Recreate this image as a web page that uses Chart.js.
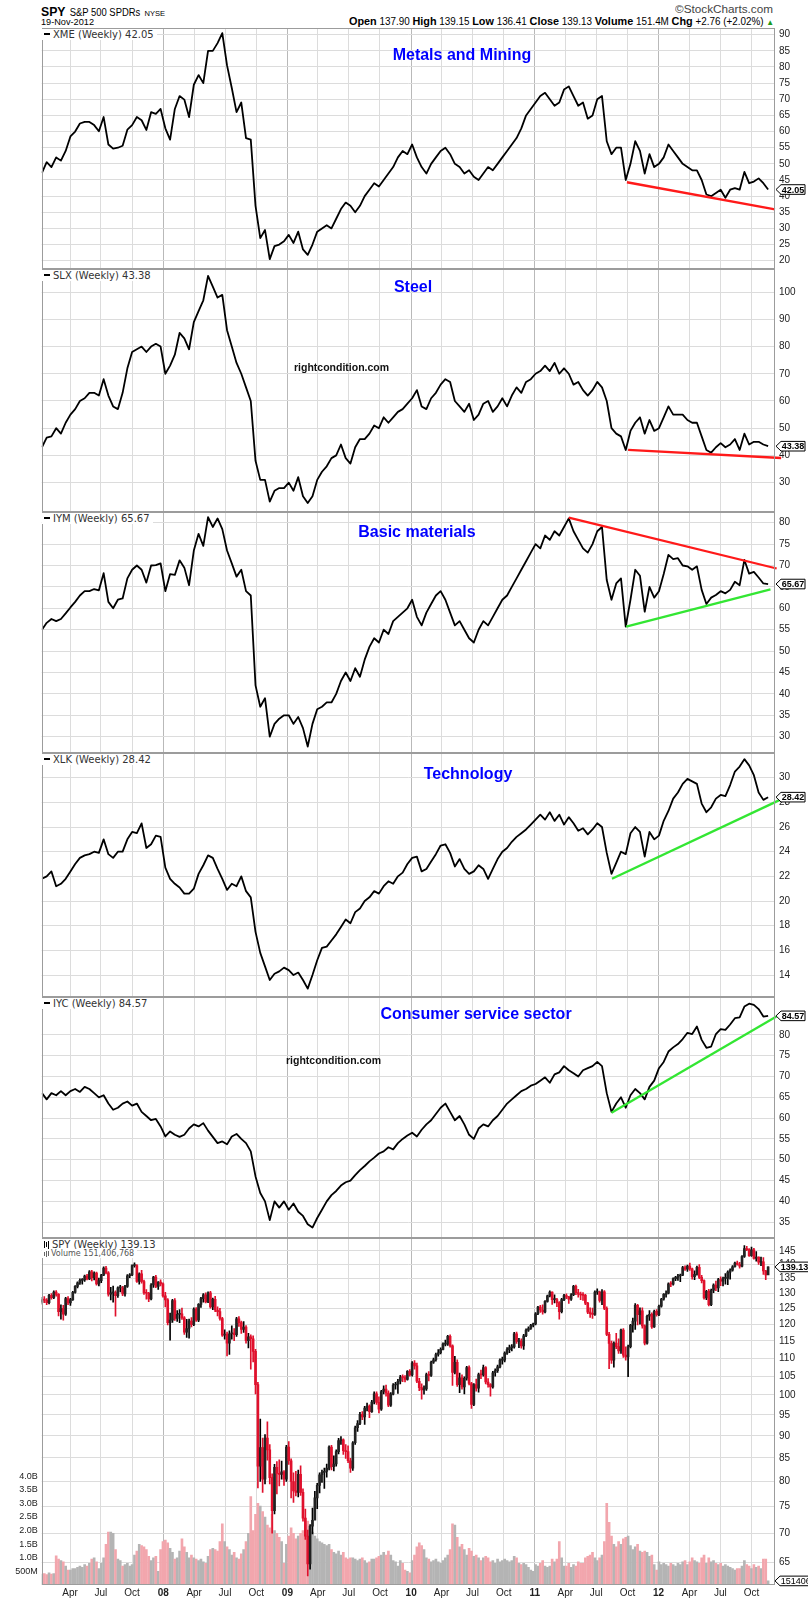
<!DOCTYPE html>
<html>
<head>
<meta charset="utf-8">
<title>SPY sectors</title>
<script src="https://cdn.jsdelivr.net/npm/chart.js@4.4.1/dist/chart.umd.min.js"></script>
<style>
  html,body{margin:0;padding:0;background:#fff;}
  body{position:relative;width:808px;height:1600px;overflow:hidden;font-family:"Liberation Sans",Arial,sans-serif;}
  canvas{position:absolute;left:0;}
  .t{position:absolute;white-space:nowrap;line-height:1;}
  .ttl{font-weight:bold;font-size:16px;color:#0000ff;transform:translateX(-50%);}
  .wm{font-weight:bold;font-size:10.5px;color:#111;}
  .lab{font-family:"DejaVu Sans";font-size:10px;line-height:11px;color:#333;background:#fff;padding:0 3px 0 2px;}
  .lab2{font-family:"DejaVu Sans";font-size:8px;line-height:9px;color:#555;background:#fff;padding:0 3px 0 2px;}
  .dash{display:inline-block;width:6px;height:2px;background:#000;vertical-align:middle;margin-right:3px;position:relative;top:-1px;}
  .ic{display:inline-block;width:1px;background:#000;margin-right:1px;vertical-align:middle;}
  #ov{position:absolute;left:0;top:0;pointer-events:none;}
  .hd{position:absolute;white-space:nowrap;line-height:1;transform-origin:0 50%;}
</style>
</head>
<body>
<div class="hd" id="h1" style="left:41px;top:3px;"><b style="font-size:13px">SPY</b> <span style="font-size:10px">S&amp;P 500 SPDRs</span> <span style="font-size:8px">NYSE</span></div>
<div class="hd" id="h2" style="left:41px;top:17px;font-size:9.5px;">19-Nov-2012</div>
<div class="hd" id="h3" style="top:5px;font-size:10px;color:#444;">©StockCharts.com</div>
<div class="hd" id="h4" style="top:16px;font-size:10px;"><b style="font-size:11px">Open</b> 137.90 <b style="font-size:11px">High</b> 139.15 <b style="font-size:11px">Low</b> 136.41 <b style="font-size:11px">Close</b> 139.13 <b style="font-size:11px">Volume</b> 151.4M <b style="font-size:11px">Chg</b> +2.76 (+2.02%) <span style="color:#1a9a1a;font-size:8px">▲</span></div>

<canvas id="c1" width="808" height="241" style="top:28px"></canvas>
<canvas id="c2" width="808" height="243" style="top:269px"></canvas>
<canvas id="c3" width="808" height="241" style="top:512px"></canvas>
<canvas id="c4" width="808" height="244" style="top:753px"></canvas>
<canvas id="c5" width="808" height="241" style="top:997px"></canvas>
<canvas id="c6" width="808" height="362" style="top:1238px"></canvas>

<div class="t lab" style="left:42px;top:28.5px;"><span class="dash"></span>XME (Weekly) 42.05</div>
<div class="t lab" style="left:42px;top:269.5px;"><span class="dash"></span>SLX (Weekly) 43.38</div>
<div class="t lab" style="left:42px;top:512.5px;"><span class="dash"></span>IYM (Weekly) 65.67</div>
<div class="t lab" style="left:42px;top:753.5px;"><span class="dash"></span>XLK (Weekly) 28.42</div>
<div class="t lab" style="left:42px;top:997.5px;"><span class="dash"></span>IYC (Weekly) 84.57</div>
<div class="t lab" style="left:42px;top:1238.5px;"><span class="ic" style="height:7px"></span><span class="ic" style="height:5px"></span><span class="ic" style="height:8px;margin-right:3px"></span>SPY (Weekly) 139.13</div>
<div class="t lab2" style="left:42px;top:1249px;"><span class="ic" style="height:4px;background:#666"></span><span class="ic" style="height:6px;background:#666"></span><span class="ic" style="height:5px;background:#666;margin-right:2px"></span>Volume 151,406,768</div>

<div class="t ttl" style="left:462px;top:47px;">Metals and Mining</div>
<div class="t ttl" style="left:413px;top:279px;">Steel</div>
<div class="t ttl" style="left:417px;top:524px;">Basic materials</div>
<div class="t ttl" style="left:468px;top:766px;">Technology</div>
<div class="t ttl" style="left:476px;top:1006px;">Consumer service sector</div>
<div class="t wm" style="left:294px;top:362px;">rightcondition.com</div>
<div class="t wm" style="left:286px;top:1055px;">rightcondition.com</div>

<svg id="ov" width="808" height="1600" xmlns="http://www.w3.org/2000/svg"></svg>

<script>
// ====================== DATA ======================
// Weekly index 0 = week of 8-Jan-2007 ... 306 = week of 19-Nov-2012.
// Sector series are read every 2 weeks (index*2 = week).
const xmeValues = [
 47.2,50.5,49,52,51,54,58.5,60,62.5,63,
 63,62,60.1,64.5,56,54.7,55,55.6,60.6,62,
 64.5,63.5,60.5,66,65.5,67,61,57.5,67,71,
 69.9,64.5,74.5,77.5,75,85,85,87.4,90.5,80.5,
 73.5,66,69,58,57.5,37,27,29.5,20.5,24.5,
 25,26,28,25.5,29,23.5,21.8,25,29,30,
 31,30,33,36,38,37,35,37,40,42,
 44,43,45,47,49,52,54,53,56,52,
 49,47,50,52,54,55,53,50,49,47,
 48,46,45,47,49,48,50,52,54,56,
 58,61,65,67,69,71,72,70,68,69,
 73,74,71,68,69,64,65,70,71,57,
 53,55,55,45,50,57,54,47,53,49,
 50,52,56,54,52,50,49,48,48,45,
 40.5,40,41,42,39.5,42,42.5,42,47.5,44,
 44.5,45.5,44,42.05
];
const slxValues = [
 43,46.5,47,50,48,52,55,57,60,61,
 63,63,62,68,62,58,57,63,72,78,
 79,80,78,80,81,80,70,73,77,85,
 83,79,89,93,97,106,102,98,99,86,
 80,74,70,65,60,38,31,31,23,27,
 28,28,30,27,32,25,22.5,25,31,34,
 36,39,40,44,39,37,43,46,46,48,
 51,50,54,52,54,56,57,59,61,64,
 58,57,61,63,66,68,67,60,58,56,
 59,53,55,59,60,56,58,61,58,62,
 65,63,67,68,70,71,73,71,74,70,
 72,70,66,67,64,62,64,67,65,60,
 50,48,47,42,49,52,54,48,53,49,
 50,54,58,55,55,55,53,52,52,47,
 42,41,43,44.5,43,44,46,42,48,44,
 45,45,44,43.38
];
const iymValues = [
 55,56.6,57.5,57,57.5,58.8,60.2,61.5,63,64,
 64,64.5,64.2,68.2,61.5,60,62,62.3,67,69,
 70,69,66,70,70.1,70.5,64,68,67.8,71.2,
 69.5,65.4,73.5,77.4,74.6,81.3,79,81,78.5,73.5,
 70.5,67.4,69,64,63,42,37,39,30,33,
 34.2,35,35,33,34.6,32,27.7,33,36.4,37,
 38,38,40,43,45,43,46,44,48,51,
 53,52,55,54,57,58,59,60,62,58,
 56,59,61,63,64,62,59,56,57,55,
 53,52,55,57,56,58,60,62,63,65,
 67,69,71,73,75,74,77,76,78,77,
 79,81,78,76,74,73,75,78,79,66.6,
 62,65.8,67,55.7,62,69,67.6,59.2,65,62.5,
 64,68,72.5,71.5,71.7,70,69.8,69,69.8,64.3,
 61,62.5,63.1,64,63.5,64.3,66.2,65.4,71.3,68.1,
 68.5,67.2,65.8,65.67
];
const xlkValues = [
 21.8,22.0,22.4,21.2,21.4,21.8,22.4,23.0,23.5,23.7,
 23.8,24.0,23.9,25.0,23.8,23.5,24.0,24.0,25.0,25.6,
 25.5,26.3,24.3,24.6,25.3,25.2,22.7,21.8,21.4,21.1,
 20.6,20.6,21.0,22.2,22.9,23.7,23.5,22.6,21.8,20.9,
 21.4,21.2,22.0,20.8,20.3,17.5,15.8,14.7,13.6,14.1,
 14.3,14.6,14.4,14.0,14.2,13.6,12.9,14.0,15.2,16.2,
 16.3,16.8,17.3,17.9,18.5,18.2,19.1,19.4,20.0,20.3,
 20.8,20.6,21.2,21.6,21.4,22.0,22.3,23.0,23.5,23.6,
 22.4,22.6,23.2,23.8,24.5,24.6,23.9,22.8,23.4,22.6,
 22.2,22.4,22.9,22.6,21.8,22.6,23.4,24.0,24.3,24.8,
 25.2,25.5,25.8,26.2,26.6,27.0,26.6,27.2,26.5,27.0,
 26.2,26.8,26.3,25.7,25.9,25.4,25.8,26.3,26.0,23.9,
 22.2,23.1,24.0,23.8,25.5,26.0,25.6,23.6,25.6,25.0,
 25.3,26.5,27.3,28.3,28.8,29.5,29.9,29.7,29.5,27.9,
 27.2,27.6,28.3,28.6,28.5,29.4,30.5,30.9,31.5,31.0,
 30.2,28.8,28.2,28.42
];
const iycValues = [
 66,64.5,66,65.5,66.5,65.5,66.5,67,66.3,67.5,
 67,66,65,65.5,63.5,62,62.5,63.5,64,63,
 63.5,61.5,60.5,59.5,59.8,58,55.6,56.8,56,55.5,
 56,57.5,58.5,58,58.8,57,55.5,54,54.4,53.7,
 55.6,56.2,55,54,52,46,42,40,35.5,40,
 38.5,40,38,39.5,37.5,36.5,34.5,33.7,36,38,
 40,41.5,42.5,43.8,44.6,45,46.3,47.5,48.5,49.6,
 50.5,51.5,52,53,52.5,54,55,55.8,56.5,55.6,
 57.2,58.5,59.5,61,62.5,63.5,61.5,59.5,60.5,58.5,
 56,55,57.5,58.5,58,59.5,60.5,62,63.5,64.5,
 65.5,66.5,67,67.8,68.2,69,69.8,68.5,70.5,71,
 72.5,71.5,70.8,70,71.5,72,72.5,73.5,72.5,66,
 61.5,63.5,65,62.5,65.5,67,66,64.5,67.5,69,
 72,73.5,76,77,77.8,79,80.5,80.2,82,78.8,
 76.9,77.2,80.2,81.4,81.2,82.5,84,84.2,86.8,87.5,
 87.2,86.2,84.4,84.57
];

// SPY weekly candles (one value per week)
const spyFirstOpen = 127.0;
const spyClose = [
 127.9,127.7,126.9,129.3,128.5,130.4,129.6,124.0,125.0,123.2,
 128.2,126.8,127.9,130.3,132.3,133.5,134.4,134.5,135.9,134.9,
 137.4,135.3,136.9,133.2,134.3,136.2,138.7,137.0,129.7,130.1,
 130.2,129.2,131.8,131.8,129.8,132.3,136.0,136.3,139.6,139.6,
 134.0,136.7,134.0,130.1,130.0,128.1,132.8,135.5,132.3,133.8,
 133.2,129.1,127.8,120.5,121.3,127.6,121.8,123.1,123.3,122.0,
 117.6,118.7,121.0,119.9,124.8,121.3,126.3,128.2,129.5,127.1,
 130.1,125.5,128.0,124.5,124.0,121.8,116.7,117.0,114.3,117.1,
 117.3,116.8,121.7,120.5,118.4,119.1,115.0,116.2,115.6,111.9,
 102.7,83.2,87.3,80.5,89.5,86.8,80.8,74.2,83.0,81.7,
 81.5,82.0,80.5,87.4,84.4,80.0,78.1,77.8,81.5,77.8,
 72.8,69.5,64.7,71.3,72.4,76.7,79.2,81.4,81.9,82.1,
 82.8,87.4,83.1,83.7,86.4,88.9,89.1,86.6,86.4,84.4,
 82.8,88.4,91.9,92.9,95.1,94.5,96.7,97.2,95.8,98.2,
 100.3,98.1,96.4,100.9,101.5,100.5,97.4,100.2,102.6,102.8,
 103.6,104.7,104.6,104.1,106.3,105.3,108.6,107.8,103.6,101.9,
 101.3,101.6,105.4,105.2,108.8,109.5,111.0,111.5,112.5,114.0,
 114.0,116.3,113.5,106.0,108.8,102.7,104.5,102.1,104.4,107.3,
 103.0,97.6,102.7,101.8,105.4,105.3,107.3,103.4,102.7,102.1,
 105.9,106.5,107.5,109.4,109.4,111.4,112.4,113.0,113.2,117.1,
 114.8,114.9,113.5,116.5,118.2,118.7,119.7,120.1,123.3,125.4,
 124.5,123.9,127.3,129.1,130.4,127.9,127.9,126.9,124.0,127.9,
 129.2,128.8,128.0,129.5,132.3,130.2,129.7,129.4,129.3,126.7,
 123.8,123.3,123.1,130.4,130.4,127.6,130.5,125.0,116.9,114.2,
 109.4,114.3,113.3,112.0,118.2,110.8,110.3,113.3,119.7,121.0,
 126.0,123.0,124.2,119.5,114.3,122.5,123.1,119.2,124.1,123.0,
 125.7,128.0,129.6,130.0,133.2,133.1,135.0,135.4,135.9,136.2,
 138.9,138.3,139.4,138.4,135.7,136.5,139.0,135.4,134.3,128.4,
 130.6,126.2,131.0,132.8,131.8,134.7,134.1,135.1,135.1,137.3,
 138.0,139.2,140.5,140.0,139.4,142.9,145.9,145.5,143.2,145.4,
 142.2,142.7,140.8,141.0,137.7,136.3,139.13
];
const spyHigh = [
 128.6,128.9,128.2,129.6,129.9,130.8,130.9,129.9,126.2,126.0,
 128.6,128.9,128.3,130.6,132.6,133.9,134.9,135.0,136.2,136.5,
 137.8,137.9,137.4,137.3,135.2,136.5,139.2,139.3,137.5,132.0,
 132.4,130.8,132.2,132.7,132.3,132.7,136.4,136.8,139.9,140.6,
 140.0,137.0,137.9,134.5,131.2,130.3,133.3,135.8,136.1,134.0,
 134.6,133.5,130.3,128.2,123.5,128.0,128.2,124.3,124.6,125.1,
 122.4,121.5,121.6,122.1,125.2,125.3,126.6,128.6,129.9,130.1,
 130.5,130.6,128.4,129.0,125.5,125.0,122.2,118.3,117.6,118.0,
 119.5,118.7,122.2,122.4,121.0,120.8,119.6,117.2,116.8,116.5,
 112.5,103.3,94.0,89.5,90.3,93.3,88.0,81.6,83.6,84.2,
 84.6,84.3,82.3,87.8,88.7,84.8,81.8,82.1,82.4,83.3,
 78.5,74.5,70.6,71.6,74.7,78.0,79.6,81.8,82.4,82.8,
 83.7,87.7,87.8,85.5,86.8,89.4,89.8,89.3,88.0,87.7,
 84.9,88.7,92.3,93.6,95.6,95.8,97.1,97.9,97.5,98.6,
 100.8,100.8,99.5,101.2,102.4,102.6,101.1,100.6,103.0,103.3,
 104.1,105.2,105.3,105.1,106.5,106.8,109.0,109.3,108.6,104.4,
 102.9,102.4,105.8,106.2,109.1,110.0,111.4,112.4,112.9,114.4,
 115.2,116.6,116.8,113.8,110.5,109.5,105.8,105.3,104.8,107.7,
 107.8,103.3,103.0,104.2,105.8,106.6,108.0,107.6,104.3,103.0,
 106.3,107.0,108.0,109.8,110.3,111.8,113.0,113.7,113.9,117.5,
 117.6,115.7,115.6,116.9,118.6,119.2,120.0,120.4,123.7,125.7,
 126.0,126.2,127.6,129.4,130.8,130.5,129.5,128.3,127.2,128.3,
 129.6,129.8,129.0,129.9,132.7,132.8,131.3,130.4,130.2,129.6,
 127.0,125.2,125.1,130.8,131.5,130.7,131.2,130.9,125.5,117.5,
 114.9,114.7,117.2,115.6,118.5,118.7,113.2,113.7,120.0,121.9,
 126.6,126.3,125.2,125.2,119.8,122.9,124.3,123.6,124.5,124.6,
 126.1,128.3,129.9,130.8,133.5,134.0,135.3,135.8,136.5,136.6,
 139.3,139.5,139.8,140.5,138.7,137.7,139.4,140.0,136.1,134.6,
 131.0,131.3,131.4,133.2,134.1,135.1,135.6,135.5,136.8,137.7,
 138.4,139.6,140.9,141.2,140.8,143.3,147.0,146.7,145.9,146.4,
 146.0,144.7,142.8,142.7,142.5,137.9,139.15
];
const spyLow = [
 126.4,126.9,126.2,126.5,128.0,128.2,129.0,122.6,121.6,121.3,
 122.8,126.2,126.0,127.6,130.0,131.8,133.0,133.1,134.0,134.5,
 134.6,134.2,134.5,132.7,132.5,133.6,136.0,136.6,129.0,127.8,
 127.0,122.5,128.6,130.4,129.2,129.0,132.0,135.3,136.0,139.0,
 133.7,133.1,133.4,129.6,128.0,127.2,127.8,132.0,131.9,131.3,
 132.5,128.7,125.5,119.8,115.2,120.6,121.2,120.9,120.5,121.5,
 116.9,116.0,115.8,119.2,119.6,120.9,120.8,125.3,127.0,126.8,
 126.9,125.1,124.6,124.0,122.6,121.3,116.3,115.5,110.6,111.0,
 115.5,115.0,116.3,119.3,117.2,117.5,114.3,112.9,106.9,108.9,
 100.3,78.7,80.0,77.8,79.5,84.5,79.5,70.0,73.6,77.5,
 79.1,80.5,79.2,80.0,83.6,76.7,75.8,77.1,76.9,77.2,
 72.2,68.9,62.7,63.8,69.9,73.5,74.6,77.7,79.8,78.6,
 80.9,82.4,82.4,82.2,83.2,85.9,88.0,85.8,84.9,84.0,
 81.9,82.3,88.0,91.0,92.6,93.8,92.7,96.0,94.3,95.6,
 97.7,97.6,95.5,96.1,100.3,99.7,97.0,97.1,100.0,101.5,
 100.4,102.9,103.5,103.4,103.9,105.0,105.0,106.9,103.2,101.1,
 98.9,100.2,101.2,103.7,104.9,108.5,109.1,110.5,111.2,112.3,
 113.5,113.6,113.1,102.5,105.6,102.2,100.6,101.5,100.3,103.9,
 102.6,96.6,97.3,101.0,100.7,104.3,105.0,102.9,102.0,99.7,
 101.8,105.0,106.0,107.2,108.3,108.9,111.0,111.5,112.0,112.8,
 114.2,113.0,112.8,112.5,116.2,117.8,118.4,119.2,119.8,123.0,
 123.7,123.2,123.6,127.0,128.8,126.3,126.8,125.6,121.6,123.6,
 127.5,128.2,126.6,127.6,129.2,129.5,128.7,127.9,127.6,126.2,
 123.3,122.1,121.8,122.8,129.6,127.0,126.2,124.6,116.5,107.0,
 108.5,107.4,112.7,111.3,111.3,110.2,109.4,104.8,112.9,117.6,
 118.4,119.8,120.0,118.8,113.8,114.0,121.2,118.7,119.0,122.5,
 122.7,125.4,127.7,128.7,129.8,132.2,132.7,134.3,134.4,133.9,
 136.0,137.9,137.5,137.9,134.8,134.6,136.2,135.0,133.5,128.0,
 127.9,125.8,125.9,130.2,130.9,130.5,132.6,132.5,133.1,132.9,
 134.8,137.6,139.0,139.8,138.7,139.1,142.6,145.1,142.9,142.9,
 141.9,141.2,140.0,139.6,136.5,134.6,136.41
];
// weekly volume, billions of shares
const spyVolume = [
 0.40,0.42,0.38,0.45,0.40,0.42,1.07,0.95,0.90,0.85,
 0.70,0.55,0.55,0.60,0.60,0.65,0.70,0.65,0.75,0.70,
 0.80,0.95,1.00,0.85,0.60,0.80,1.00,1.50,1.95,1.95,
 1.90,1.30,0.95,0.90,0.70,0.75,0.80,0.70,0.75,1.10,
 1.25,1.50,1.45,1.40,1.30,1.05,0.90,1.00,1.05,0.50,
 1.30,1.60,1.65,1.55,1.35,1.20,0.95,1.00,1.25,1.70,
 1.40,1.20,1.00,1.10,1.00,0.95,0.90,0.95,0.85,0.80,
 1.05,1.30,1.35,1.30,1.25,1.60,2.25,1.60,1.40,1.30,
 1.10,1.20,1.00,0.95,1.15,1.30,1.60,1.90,3.25,2.00,
 2.60,3.00,2.90,2.70,2.50,2.20,2.10,2.60,2.00,1.90,
 1.75,1.60,0.80,1.50,1.80,2.10,1.90,1.70,1.80,1.90,
 2.00,2.20,2.35,2.10,1.95,1.80,1.70,1.60,1.55,1.50,
 1.45,1.50,1.30,1.20,1.15,1.25,1.10,1.20,1.00,0.95,
 1.00,1.00,0.95,0.90,0.95,1.00,0.90,0.80,0.85,0.95,
 0.95,1.00,1.05,1.10,1.20,1.10,1.25,1.10,0.90,0.85,
 0.70,0.90,0.80,0.55,0.50,0.45,0.90,1.10,1.40,1.55,
 1.45,1.30,1.00,0.95,0.85,0.90,0.95,0.85,0.80,0.90,
 1.00,1.10,1.30,2.25,2.20,1.75,1.40,1.50,1.30,1.10,
 1.35,1.25,1.05,1.10,1.00,0.90,1.00,1.05,1.00,0.85,
 0.90,0.80,0.95,0.85,0.90,0.95,0.90,0.85,0.90,1.05,
 1.00,0.80,0.75,0.80,0.75,0.65,0.55,0.50,0.75,0.70,
 0.80,0.90,0.70,0.65,0.70,0.95,0.85,0.95,1.60,1.00,
 0.70,0.70,0.80,0.65,0.75,0.70,0.85,0.80,0.80,1.00,
 1.05,1.10,1.20,1.00,0.90,1.00,1.10,1.60,3.00,2.30,
 1.80,1.50,1.40,1.60,1.50,1.70,1.75,1.80,1.45,1.30,
 1.40,1.50,1.25,1.20,1.25,1.20,1.05,1.10,0.75,0.55,
 0.85,0.75,0.80,0.75,0.70,0.80,0.75,0.70,0.80,0.75,
 0.85,0.90,0.75,0.85,1.00,0.90,0.85,0.80,1.00,1.10,
 0.80,1.00,0.85,0.90,0.80,0.75,0.80,0.70,0.75,0.70,
 0.65,0.60,0.55,0.60,0.60,0.70,0.90,0.75,0.70,0.60,
 0.75,0.65,0.70,0.60,0.95,0.95,0.15
];

// trend lines (week, value) drawn on the chart
const xmeRedWeeks = [246.5, 308.9],  xmeRedValues = [44.3, 35.9];
const slxRedWeeks = [247, 311.5],    slxRedValues = [42.0, 39.05];
const iymRedWeeks = [222, 309.6],    iymRedValues = [81.2, 69.3];
const iymGreenWeeks = [246.2, 307],  iymGreenValues = [55.7, 64.4];
const xlkGreenWeeks = [240.2, 311],  xlkGreenValues = [21.8, 28.2];
const iycGreenWeeks = [240, 309.5],  iycGreenValues = [61.3, 84.4];

// axis tick values
const xmeTicks = [20,25,30,35,40,45,50,55,60,65,70,75,80,85,90];
const slxTicks = [30,40,50,60,70,80,90,100];
const iymTicks = [30,35,40,45,50,55,60,65,70,75,80];
const xlkTicks = [14,16,18,20,22,24,26,28,30];
const iycTicks = [35,40,45,50,55,60,65,70,75,80];
const spyTicks = [65,70,75,80,85,90,95,100,105,110,115,120,125,130,135,140,145];
const volTicks = [0.5,1.0,1.5,2.0,2.5,3.0,3.5,4.0];
const volTickLabels = ['500M','1.0B','1.5B','2.0B','2.5B','3.0B','3.5B','4.0B'];
const monthNames = ['Jan','Apr','Jul','Oct'];

// ====================== SETUP ======================
Chart.defaults.font.family = '"Liberation Sans", Arial, sans-serif';
Chart.defaults.animation = false;
const X_MIN = -0.1, X_MAX = 308.9;
const W0 = Date.UTC(2007,0,8), WEEK = 7*86400000;
const quarterTicks = [], quarterLabels = [], yearSet = new Set();
for (let y = 2007; y <= 2012; y++) {
  [0,3,6,9].forEach((m,k) => {
    const v = (Date.UTC(y,m,1) - W0) / WEEK;
    if (v > X_MIN && v < X_MAX) {
      quarterTicks.push(v);
      quarterLabels.push(k === 0 ? String(y).slice(2) : monthNames[k]);
      if (k === 0) yearSet.add(v);
    }
  });
}
const GRID = '#dcdcdc', YEARGRID = '#b9b9b9';

const framePlugin = {
  id: 'frame',
  afterDraw(chart) {
    const {ctx, chartArea: a} = chart;
    ctx.save();
    ctx.strokeStyle = '#9c9c9c';
    ctx.lineWidth = 1;
    ctx.strokeRect(Math.round(a.left)+0.5, Math.round(a.top)+0.5,
                   Math.round(a.right-a.left)-1, Math.round(a.bottom-a.top)-1);
    ctx.restore();
  }
};

function noPad(s) { s.paddingTop = 0; s.paddingBottom = 0; s.paddingLeft = 0; s.paddingRight = 0; }
function xScale(showLabels) {
  return {
    type: 'linear', min: X_MIN, max: X_MAX, offset: false,
    afterBuildTicks: s => { s.ticks = quarterTicks.map(v => ({value: v})); },
    afterFit: s => { s.height = showLabels ? 15 : 0; noPad(s); },
    grid: { offset: false, drawTicks: false, lineWidth: 1,
            color: c => (c.tick && yearSet.has(c.tick.value)) ? YEARGRID : GRID },
    border: { display: false },
    ticks: { display: showLabels, autoSkip: false, maxRotation: 0, padding: 2, color: '#222',
             font: c => ({ size: 10, weight: (c.tick && yearSet.has(c.tick.value)) ? 'bold' : 'normal' }),
             callback: (v, i) => quarterLabels[i] }
  };
}
function yScale(type, min, max, ticks) {
  return {
    type, position: 'right', min, max,
    afterBuildTicks: s => { s.ticks = ticks.map(v => ({value: v})); },
    afterFit: s => { s.width = 33; noPad(s); },
    grid: { color: GRID, drawTicks: false, lineWidth: 1 },
    border: { display: false },
    ticks: { padding: 4, color: '#222', autoSkip: false, font: { size: 10 }, callback: v => String(v) }
  };
}

const charts = {};
function linePanel(id, values, yMin, yMax, ticks, trends) {
  const datasets = [{
    data: values.map((v, i) => ({x: i*2, y: v})),
    borderColor: '#000', borderWidth: 1.8, pointRadius: 0, tension: 0,
    borderJoinStyle: 'round', order: 2
  }];
  trends.forEach(t => datasets.push({
    data: t.w.map((w, i) => ({x: w, y: t.v[i]})),
    borderColor: t.color, borderWidth: 2.3, pointRadius: 0, clip: false, order: 1
  }));
  charts[id] = new Chart(document.getElementById(id), {
    type: 'line',
    data: { datasets },
    options: {
      responsive: false, animation: false, events: [],
      layout: { padding: { left: 41.7, right: 0, top: 0, bottom: 0 } },
      plugins: { legend: { display: false }, tooltip: { enabled: false } },
      scales: { x: xScale(false), y: yScale('linear', yMin, yMax, ticks) }
    },
    plugins: [framePlugin]
  });
}

const RED = '#ff1a1a', GREEN = '#33e633';
linePanel('c1', xmeValues, 17.43, 92.08, xmeTicks,
  [{w: xmeRedWeeks, v: xmeRedValues, color: RED}]);
linePanel('c2', slxValues, 19.2, 108.5, slxTicks,
  [{w: slxRedWeeks, v: slxRedValues, color: RED}]);
linePanel('c3', iymValues, 26.19, 82.5, iymTicks,
  [{w: iymRedWeeks, v: iymRedValues, color: RED}, {w: iymGreenWeeks, v: iymGreenValues, color: GREEN}]);
linePanel('c4', xlkValues, 12.22, 32.0, xlkTicks,
  [{w: xlkGreenWeeks, v: xlkGreenValues, color: GREEN}]);
linePanel('c5', iycValues, 31.2, 89.1, iycTicks,
  [{w: iycGreenWeeks, v: iycGreenValues, color: GREEN}]);

// SPY candles + volume
const spyOpen = spyClose.map((c, i) => i === 0 ? spyFirstOpen : spyClose[i-1]);
const spyDown = spyClose.map((c, i) => c < spyOpen[i]);
const yPrice = yScale('logarithmic', 61.26, 149.9, spyTicks);
charts.c6 = new Chart(document.getElementById('c6'), {
  type: 'bar',
  data: { datasets: [
    { yAxisID: 'yv', data: spyVolume.map((v, i) => ({x: i, y: v})),
      backgroundColor: spyDown.map(d => d ? '#f2a6ad' : '#b4b4b4'),
      barThickness: 2, grouped: false, order: 3 },
    { yAxisID: 'y', data: spyHigh.map((h, i) => ({x: i, y: [spyLow[i], h]})),
      backgroundColor: spyDown.map(d => d ? '#e0102c' : '#000'),
      barThickness: 1, grouped: false, order: 2 },
    { yAxisID: 'y', data: spyClose.map((c, i) => ({x: i, y: [spyOpen[i], c]})),
      backgroundColor: spyDown.map(d => d ? '#e0102c' : '#222'),
      barThickness: 2, minBarLength: 1, grouped: false, order: 1 }
  ]},
  options: {
    responsive: false, animation: false, events: [],
    layout: { padding: 0 },
    plugins: { legend: { display: false }, tooltip: { enabled: false } },
    scales: {
      x: xScale(true),
      y: yPrice,
      yv: { type: 'linear', position: 'left', min: 0, max: 12.76,
            afterBuildTicks: s => { s.ticks = volTicks.map(v => ({value: v})); },
            afterFit: s => { s.width = 41.7; noPad(s); },
            grid: { display: false, drawTicks: false }, border: { display: false },
            ticks: { padding: 4, color: '#222', autoSkip: false, font: { size: 9 },
                     callback: (v, i) => volTickLabels[i] } }
    }
  },
  plugins: [framePlugin]
});

// ====================== OVERLAYS ======================
const svgNS = 'http://www.w3.org/2000/svg';
const ov = document.getElementById('ov');
function addTag(x, y, text, w, bold) {
  const h = 4.8;
  const p = document.createElementNS(svgNS, 'polygon');
  p.setAttribute('points', `${x},${y} ${x+5},${y-h} ${x+5+w},${y-h} ${x+5+w},${y+h} ${x+5},${y+h}`);
  p.setAttribute('fill', '#fff'); p.setAttribute('stroke', '#000'); p.setAttribute('stroke-width', '1');
  ov.appendChild(p);
  const t = document.createElementNS(svgNS, 'text');
  t.setAttribute('x', x + 5.8); t.setAttribute('y', y + 3.2);
  t.setAttribute('font-family', 'Liberation Sans, Arial, sans-serif');
  t.setAttribute('font-size', '9'); t.setAttribute('font-weight', bold ? 'bold' : 'normal');
  t.setAttribute('fill', '#000');
  t.textContent = text;
  ov.appendChild(t);
}
const panelTops = {c1: 28, c2: 269, c3: 512, c4: 753, c5: 997, c6: 1238};
const lastVals = [['c1', xmeValues], ['c2', slxValues], ['c3', iymValues], ['c4', xlkValues], ['c5', iycValues]];
lastVals.forEach(([id, arr]) => {
  const v = arr[arr.length-1];
  const y = panelTops[id] + charts[id].scales.y.getPixelForValue(v);
  addTag(776, y, v.toFixed(2), 24, true);
});
{
  const v = spyClose[spyClose.length-1];
  addTag(775, panelTops.c6 + charts.c6.scales.y.getPixelForValue(v), v.toFixed(2), 29, true);
  const vv = spyVolume[spyVolume.length-1];
  addTag(775, panelTops.c6 + charts.c6.scales.yv.getPixelForValue(vv), '151406768', 40, false);
}

// header fitting (condensed StockCharts-style header)
function fit(id, left, right) {
  const el = document.getElementById(id);
  const w = el.getBoundingClientRect().width;
  const s = (right - left) / w;
  el.style.left = left + 'px';
  el.style.transform = `scaleX(${s})`;
}
fit('h1', 41, 165);
fit('h2', 41, 94);
fit('h3', 675, 773);
fit('h4', 349, 774);
</script>
</body>
</html>
